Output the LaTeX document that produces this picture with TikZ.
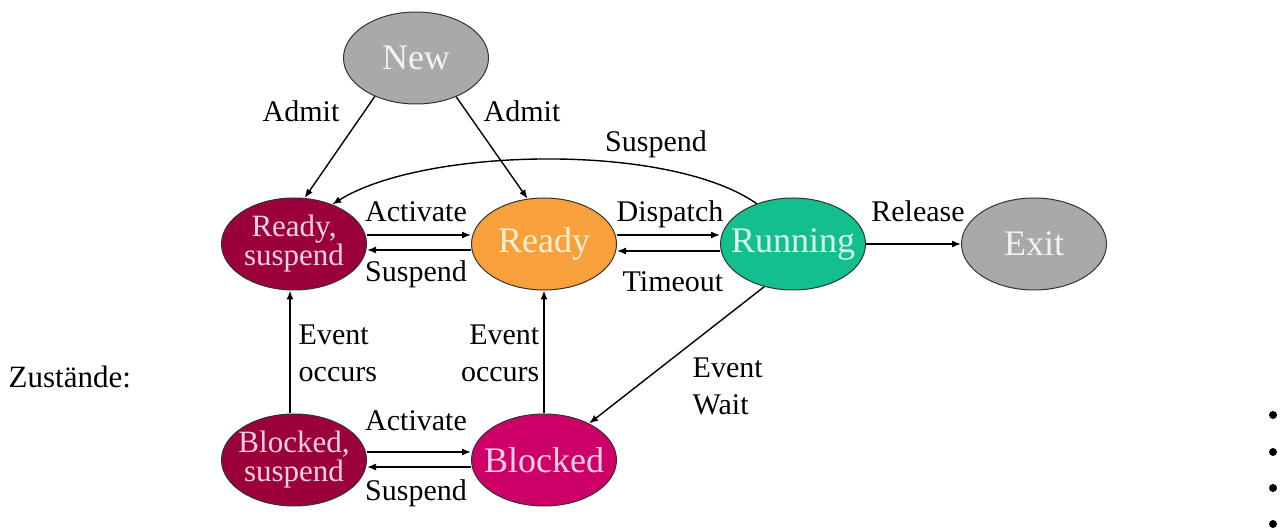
\documentclass[tikz,border=0pt]{standalone}
\usepackage{fontspec}
\setmainfont{Liberation Serif}
\usetikzlibrary{shapes.geometric,arrows.meta}
\definecolor{grayfill}{HTML}{A9A9A9}
\definecolor{grayfont}{HTML}{F2F2F2}
\definecolor{maroonfill}{HTML}{9C003B}
\definecolor{maroonfont}{HTML}{F8D2DF}
\definecolor{orangefill}{HTML}{F7A03C}
\definecolor{orangefont}{HTML}{FFF2D2}
\definecolor{tealfill}{HTML}{14BF8E}
\definecolor{tealfont}{HTML}{D8F7EC}
\definecolor{magentafill}{HTML}{CC0066}
\definecolor{magentafont}{HTML}{FFD0E6}
\begin{document}
\begin{tikzpicture}[x=0.5pt,y=-0.5pt,
   state/.style={ellipse,draw=black!80,line width=0.5pt,
      minimum width=72.5pt,minimum height=46pt,inner xsep=-10pt,inner ysep=0pt,
      font=\fontsize{18}{20}\selectfont},
   twoline/.style={state,align=center,font=\fontsize{15.5}{14.5}\selectfont},
   lbl/.style={inner sep=0pt,font=\fontsize{15}{18.5}\selectfont},
   >={Latex[length=4.5pt,width=3.5pt]},
   every path/.style={line width=0.7pt}]
\useasboundingbox (0,0) rectangle (1283,528);
\node[state,fill=grayfill,text=grayfont] (nw) at (416,58) {New};
\node[twoline,fill=maroonfill,text=maroonfont] (rs) at (294,244) {Ready,\\suspend};
\node[state,fill=orangefill,text=orangefont] (rd) at (544,244) {Ready};
\node[state,fill=tealfill,text=tealfont] (rn) at (793,244) {Running};
\node[state,fill=grayfill,text=grayfont] (ex) at (1034,244) {Exit};
\node[twoline,fill=maroonfill,text=maroonfont] (bs) at (294,460) {Blocked,\\suspend};
\node[state,fill=magentafill,text=magentafont] (bl) at (544,460) {Blocked};
\draw[->] (nw.223) -- (rs.77);
\draw[->] (nw.316) -- (rd.110);
\draw[->] (rn.132) to[out=145,in=32,looseness=0.65] (rs.46);
\draw[->] ([yshift=4.5pt]rs.east) -- ([yshift=4.5pt]rd.west);
\draw[->] ([yshift=-3pt]rd.west) -- ([yshift=-3pt]rs.east);
\draw[->] ([yshift=4.5pt]rd.east) -- ([yshift=4.5pt]rn.west);
\draw[->] ([yshift=-3.5pt]rn.west) -- ([yshift=-3.5pt]rd.east);
\draw[->] (rn.east) -- (ex.west);
\draw[->] ([xshift=-2pt]bs.north) -- ([xshift=-2pt]rs.south);
\draw[->] (bl.north) -- (rd.south);
\draw[->] (rn.236) -- (bl.39);
\draw[->] ([yshift=4pt]bs.east) -- ([yshift=4pt]bl.west);
\draw[->] ([yshift=-3.5pt]bl.west) -- ([yshift=-3.5pt]bs.east);
\node[lbl,anchor=base] (l1) at (301,122) {Admit};
\node[lbl,anchor=base] (l2) at (522,122) {Admit};
\node[lbl,anchor=base] (l3) at (656,152) {Suspend};
\node[lbl,anchor=base] (l4) at (416,222) {Activate};
\node[lbl,anchor=base] (l5) at (416,282) {Suspend};
\node[lbl,anchor=base] (l6) at (670,222) {Dispatch};
\node[lbl,anchor=base] (l7) at (673,292) {Timeout};
\node[lbl,anchor=base] (l8) at (918,222) {Release};
\node[lbl,anchor=west,align=left] (l9) at (298,353) {Event\\occurs};
\node[lbl,anchor=east,align=right] (l10) at (540,353) {Event\\occurs};
\node[lbl,anchor=west,align=left] (l11) at (692,386) {Event\\Wait};
\node[lbl,anchor=base] (l12) at (416,430) {Activate};
\node[lbl,anchor=base] (l13) at (416,500) {Suspend};
\node[anchor=base west,inner sep=0pt,font=\fontsize{15.5}{18}\selectfont] (zs) at (8,388) {Zustände:};
\foreach \y in {415,452,488,524}
   \fill (1273,\y) circle (2pt);
\end{tikzpicture}
\end{document}
